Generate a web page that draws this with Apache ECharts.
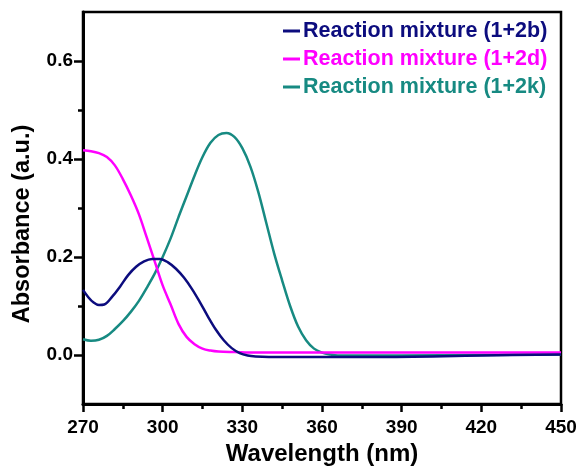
<!DOCTYPE html>
<html>
<head>
<meta charset="utf-8">
<script src="https://cdn.jsdelivr.net/npm/echarts@6/dist/echarts.min.js"></script>
<style>
  html, body { margin: 0; padding: 0; background: #fff; }
  #chart { width: 579px; height: 466px; }
</style>
</head>
<body>
<div id="chart"></div>
<script>
// Wavelength (nm) vs absorbance
const mix2b = [
  [270, 0.133], [272, 0.118], [274, 0.107], [276, 0.102], [278, 0.103], [281, 0.119],
  [284, 0.140], [287, 0.163], [290, 0.180], [293, 0.191], [296, 0.196], [299, 0.196],
  [302, 0.189], [305, 0.176], [308, 0.158], [311, 0.135], [314, 0.108], [317, 0.079],
  [320, 0.052], [323, 0.030], [326, 0.014], [329, 0.004], [332, -0.001], [335, -0.003],
  [340, -0.004], [380, -0.004], [420, -0.001], [450, 0.001]
];
const mix2d = [
  [270, 0.418], [273, 0.416], [276, 0.412], [279, 0.404], [282, 0.387], [285, 0.359],
  [288, 0.326], [291, 0.288], [294, 0.240], [297, 0.191], [300, 0.142], [303, 0.103],
  [306, 0.063], [309, 0.037], [312, 0.022], [315, 0.013], [318, 0.009], [321, 0.007],
  [327, 0.006], [335, 0.005], [450, 0.005]
];
const mix2k = [
  [270, 0.032], [273, 0.029], [276, 0.031], [279, 0.039], [282, 0.053], [285, 0.069],
  [288, 0.088], [291, 0.110], [294, 0.137], [297, 0.166], [300, 0.200], [303, 0.238],
  [306, 0.282], [309, 0.324], [312, 0.366], [315, 0.404], [318, 0.433], [321, 0.449],
  [324, 0.453], [327, 0.445], [330, 0.422], [333, 0.385], [336, 0.333], [339, 0.270],
  [342, 0.207], [345, 0.152], [348, 0.100], [351, 0.058], [354, 0.030], [357, 0.013],
  [360, 0.005], [363, 0.001], [366, -0.001], [372, -0.001], [390, -0.001], [420, 0.000],
  [450, 0.001]
];
const seriesNames = ['Reaction mixture (1+2b)', 'Reaction mixture (1+2d)', 'Reaction mixture (1+2k)'];
const seriesColors = ['#0c0c7e', '#ff00ff', '#178a82'];
const yMajor = [0, 0.2, 0.4, 0.6];
const yMinor = [0.1, 0.3, 0.5];

const font = '"Liberation Sans", Arial, sans-serif';
const chart = echarts.init(document.getElementById('chart'));

chart.setOption({
  backgroundColor: '#fff',
  animation: false,
  grid: {
    left: 83, right: 18, top: 12, bottom: 62,
    outerBoundsMode: 'none', containLabel: false,
    show: true, borderColor: '#000', borderWidth: 2.5, backgroundColor: 'transparent'
  },
  legend: {
    orient: 'vertical',
    left: 283, top: 20,
    padding: 0,
    icon: 'rect',
    itemWidth: 17, itemHeight: 3,
    itemGap: 6,
    textStyle: { fontFamily: font, fontWeight: 'bold', fontSize: 21.5, padding: [0, 0, 0, -2] },
    data: seriesNames.map((n, i) => ({ name: n, textStyle: { color: seriesColors[i] } }))
  },
  xAxis: {
    type: 'value', min: 270, max: 450, interval: 30,
    name: 'Wavelength (nm)', nameLocation: 'middle', nameGap: 38,
    nameTextStyle: { fontFamily: font, fontWeight: 'bold', fontSize: 24, color: '#000' },
    axisLine: { onZero: false, lineStyle: { color: '#000', width: 3 } },
    axisTick: { length: 8, lineStyle: { color: '#000', width: 2.5 } },
    minorTick: { show: true, splitNumber: 2, length: 5, lineStyle: { color: '#000', width: 2.5 } },
    axisLabel: { margin: 14, fontFamily: font, fontWeight: 'bold', fontSize: 19, color: '#000' },
    splitLine: { show: false }
  },
  yAxis: [
    {
      type: 'value', min: -0.1, max: 0.7,
      name: 'Absorbance (a.u.)', nameLocation: 'middle', nameGap: 48,
      nameTextStyle: { fontFamily: font, fontWeight: 'bold', fontSize: 23.5, color: '#000', padding: [0, 32, 0, 0] },
      axisLine: { onZero: false, lineStyle: { color: '#000', width: 3 } },
      axisTick: { customValues: yMajor, length: 9, lineStyle: { color: '#000', width: 2.5 } },
      axisLabel: {
        customValues: yMajor, margin: 10,
        fontFamily: font, fontWeight: 'bold', fontSize: 19, color: '#000',
        formatter: v => v.toFixed(1)
      },
      splitLine: { show: false }
    },
    {
      type: 'value', min: -0.1, max: 0.7, position: 'left',
      axisLine: { show: false },
      axisTick: { show: true, customValues: yMinor, length: 5, lineStyle: { color: '#000', width: 2.5 } },
      axisLabel: { show: false },
      splitLine: { show: false }
    }
  ],
  series: [mix2b, mix2d, mix2k].map((d, i) => ({
    name: seriesNames[i],
    type: 'line',
    data: d,
    yAxisIndex: 0,
    smooth: 0.35,
    showSymbol: false,
    symbol: 'none',
    lineStyle: { color: seriesColors[i], width: 2.5 },
    itemStyle: { color: seriesColors[i] },
    z: 3 - i
  }))
});
</script>
</body>
</html>
